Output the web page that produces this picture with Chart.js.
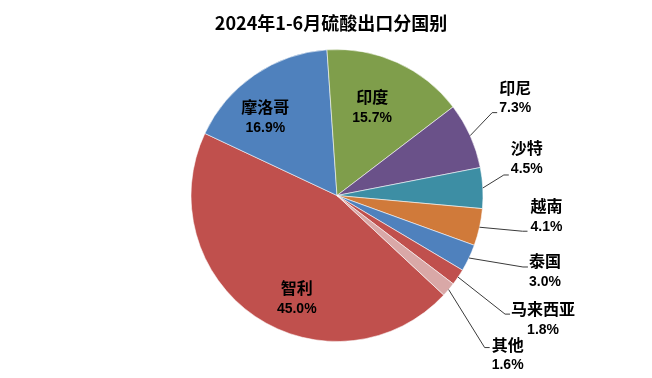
<!DOCTYPE html>
<html><head><meta charset="utf-8">
<script src="https://cdn.jsdelivr.net/npm/chart.js@4/dist/chart.umd.min.js"></script>
<style>html,body{margin:0;padding:0;background:#fff}canvas{display:block}</style>
</head><body>
<canvas id="c" width="652" height="378"></canvas>
<script>
const titleText = '2024年1-6月硫酸出口分国别';
const categories = ['智利','摩洛哥','印度','印尼','沙特','越南','泰国','马来西亚','其他'];
const shares = [45.0, 16.9, 15.7, 7.3, 4.5, 4.1, 3.0, 1.8, 1.6];
const sliceColors = ['#C0504D','#4F81BD','#7F9E4B','#6A5189','#3D8EA4','#D07A3A','#4F81BD','#C0504D','#D9A8A7'];

// label placement (style): inside labels use radius fraction + nudge, outside use offset from slice edge + leader end
const labelPlace = [
  {inside:true, r:0.7, dx:17, dy:18},
  {inside:true, r:0.7, dx:-14, dy:6},
  {inside:true, r:0.7, dx:-7, dy:5},
  {inside:false, dx:45, dy:-38, lx:-18, ly:15},
  {inside:false, dx:44, dy:-30, lx:-18, ly:17},
  {inside:false, dx:67, dy:-11, lx:-19, ly:15},
  {inside:false, dx:76, dy:13, lx:-17, ly:-4},
  {inside:false, dx:85, dy:42, lx:-33, ly:-5},
  {inside:false, dx:59, dy:65, lx:-18, ly:-7}
];

const labelPlugin = {
  id: 'sliceLabels',
  afterDatasetsDraw(chart) {
    const ctx = chart.ctx;
    const meta = chart.getDatasetMeta(0);
    const data = chart.data.datasets[0].data;
    ctx.save();
    meta.data.forEach((arc, i) => {
      const p = arc.getProps(['x','y','startAngle','endAngle','outerRadius'], true);
      const mid = (p.startAngle + p.endAngle) / 2;
      const pl = labelPlace[i];
      let cx, cy;
      if (pl.inside) {
        const r = p.outerRadius * pl.r;
        cx = p.x + Math.cos(mid) * r + pl.dx;
        cy = p.y + Math.sin(mid) * r + pl.dy;
      } else {
        const ex = p.x + Math.cos(mid) * p.outerRadius;
        const ey = p.y + Math.sin(mid) * p.outerRadius;
        cx = ex + pl.dx; cy = ey + pl.dy;
        const lx = cx + pl.lx, ly = cy + pl.ly;
        ctx.strokeStyle = '#3a3a3a';
        ctx.lineWidth = 1;
        ctx.beginPath();
        ctx.moveTo(ex, ey);
        ctx.lineTo(lx - 5, ly);
        ctx.lineTo(lx, ly);
        ctx.stroke();
      }
      ctx.fillStyle = '#000';
      ctx.textAlign = 'center';
      ctx.textBaseline = 'middle';
      ctx.font = 'bold 16px "Noto Sans CJK SC"';
      ctx.fillText(chart.data.labels[i], cx, cy - 10);
      ctx.font = 'bold 14px "Liberation Sans"';
      ctx.fillText(data[i].toFixed(1) + '%', cx, cy + 11);
    });
    ctx.restore();
  }
};

const titlePlugin = {
  id: 'topTitle',
  afterDraw(chart) {
    const ctx = chart.ctx;
    ctx.save();
    ctx.fillStyle = '#000';
    ctx.font = 'bold 18px "Noto Sans CJK SC"';
    ctx.textAlign = 'center';
    ctx.textBaseline = 'middle';
    ctx.fillText(titleText, 331, 23);
    ctx.restore();
  }
};

new Chart(document.getElementById('c'), {
  type: 'pie',
  data: {
    labels: categories,
    datasets: [{
      data: shares,
      backgroundColor: sliceColors,
      borderColor: 'rgba(255,255,255,0.55)',
      borderWidth: 1
    }]
  },
  options: {
    responsive: false,
    animation: false,
    rotation: 133,
    layout: { padding: { left: 190, right: 168, top: 49, bottom: 36 } },
    plugins: { legend: { display: false }, tooltip: { enabled: false }, title: { display: false } }
  },
  plugins: [labelPlugin, titlePlugin]
});
</script>
</body></html>
